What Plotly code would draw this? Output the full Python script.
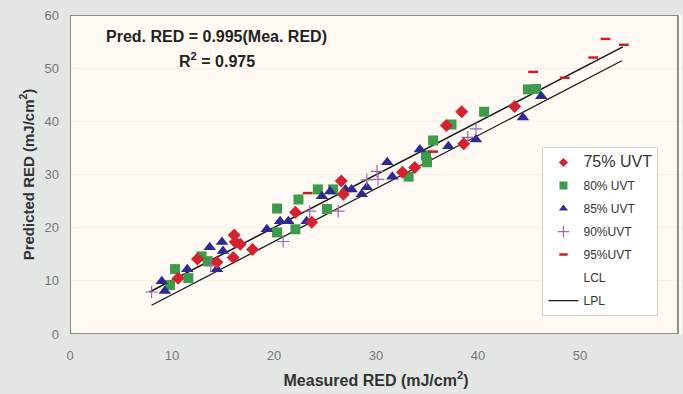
import plotly.graph_objects as go

# ---- data ----
uvt75_x = [10.6, 12.5, 14.4, 16.1, 16.2, 16.7, 16.0, 17.9, 22.1, 23.7, 26.8, 26.6, 32.6, 33.8, 36.9, 38.4, 38.6, 43.6]
uvt75_y = [10.5, 14.1, 13.5, 18.6, 17.3, 16.9, 14.4, 15.9, 22.9, 21.0, 26.3, 28.8, 30.4, 31.3, 39.2, 41.8, 35.8, 42.8]

uvt80_x = [9.8, 10.3, 11.6, 12.9, 13.5, 20.3, 20.3, 22.1, 22.4, 24.3, 25.8, 25.2, 33.2, 34.9, 35.0, 35.6, 37.4, 40.6, 44.9, 45.7]
uvt80_y = [9.2, 12.2, 10.5, 14.6, 13.7, 23.6, 19.1, 19.7, 25.3, 27.2, 27.2, 23.5, 29.6, 33.6, 32.3, 36.4, 39.4, 41.8, 46.0, 46.1]

uvt85_x = [9.0, 9.3, 11.5, 13.7, 14.9, 15.0, 14.4, 19.3, 20.6, 21.4, 23.2, 24.7, 25.5, 27.0, 27.6, 28.6, 29.1, 31.1, 31.6, 34.3, 37.1, 39.8, 44.4, 46.2]
uvt85_y = [9.9, 8.1, 12.2, 16.3, 17.3, 15.6, 12.2, 19.7, 21.2, 21.2, 21.2, 25.9, 26.8, 27.2, 27.2, 26.3, 27.6, 32.3, 29.6, 34.7, 35.3, 36.6, 40.7, 44.7]

uvt90_x = [8.0, 13.8, 20.9, 23.5, 26.3, 29.1, 30.1, 30.2, 39.0, 39.8]
uvt90_y = [7.9, 12.8, 17.4, 23.1, 23.1, 29.0, 30.6, 29.1, 37.0, 38.6]

uvt95_x = [23.3, 35.6, 45.4, 48.5, 51.3, 52.5, 54.3]
uvt95_y = [26.5, 34.3, 49.3, 48.2, 52.0, 55.5, 54.4]

fit_x = [7.8, 54.2]
fit_y = [7.9, 54.0]
lcl_x = [8.0, 54.1]
lcl_y = [6.6, 52.6]
lpl_x = [8.0, 54.1]
lpl_y = [5.4, 51.4]

tick_vals = [0, 10, 20, 30, 40, 50, 60]

FONT = "Liberation Sans, Arial, sans-serif"

series = [
    # name, xs, ys, marker (plot), marker (legend), legend rank
    ("80% UVT", uvt80_x, uvt80_y,
     dict(symbol="square", size=10, color="#3f9a4c"),
     dict(symbol="square", size=8, color="#3f9a4c"), 2),
    ("85% UVT", uvt85_x, uvt85_y,
     dict(symbol="triangle-up", size=11, color="#2f2a8f"),
     dict(symbol="triangle-up", size=8, color="#2f2a8f"), 3),
    ('<span style="font-size:16px">75% UVT</span>', uvt75_x, uvt75_y,
     dict(symbol="diamond", size=10, color="#d42330"),
     dict(symbol="diamond", size=7, color="#d42330"), 1),
    ("90%UVT", uvt90_x, uvt90_y,
     dict(symbol="cross-thin", size=9, line=dict(color="#9a6aa6", width=1.2)),
     dict(symbol="cross-thin", size=8, line=dict(color="#9a6aa6", width=1.2)), 4),
    ("95%UVT", uvt95_x, uvt95_y,
     dict(symbol="line-ew", size=7, line=dict(color="#c8202a", width=2.5)),
     dict(symbol="line-ew", size=6, line=dict(color="#c8202a", width=2.5)), 5),
]

fig = go.Figure()

# white LCL line (invisible against the background, drawn first)
fig.add_trace(go.Scatter(x=lcl_x, y=lcl_y, mode="lines", name="LCL",
                         line=dict(color="white", width=1), legendrank=6, legendgroup="g6"))
fig.add_trace(go.Scatter(x=fit_x, y=fit_y, mode="lines", showlegend=False,
                         line=dict(color="#1a1a1a", width=1.6)))
fig.add_trace(go.Scatter(x=lpl_x, y=lpl_y, mode="lines", name="LPL",
                         line=dict(color="#1a1a1a", width=1.3), legendrank=7, legendgroup="g7"))

for name, xs, ys, mk, lmk, rank in series:
    grp = "g%d" % rank
    fig.add_trace(go.Scatter(x=xs, y=ys, mode="markers", name=name, marker=mk,
                             showlegend=False, legendgroup=grp))
    fig.add_trace(go.Scatter(x=[None], y=[None], mode="markers", name=name, marker=lmk,
                             legendrank=rank, legendgroup=grp))

fig.add_annotation(xref="paper", yref="paper", x=0.24, y=0.934, xanchor="center", yanchor="middle",
                   text="<b>Pred. RED = 0.995(Mea. RED)</b>", showarrow=False,
                   font=dict(family=FONT, size=16, color="#222"))
fig.add_annotation(xref="paper", yref="paper", x=0.24, y=0.859, xanchor="center", yanchor="middle",
                   text="<b>R<sup>2</sup> = 0.975</b>", showarrow=False,
                   font=dict(family=FONT, size=16, color="#222"))

fig.update_layout(
    width=683, height=394,
    margin=dict(l=70, r=1, t=15, b=60),
    paper_bgcolor="#e2e7e4",
    plot_bgcolor="#fffbf4",
    font=dict(family=FONT, color="#555"),
    legend=dict(x=0.772, y=0.586, xanchor="left", yanchor="top",
                bgcolor="white", bordercolor="#cfcfcf", borderwidth=1,
                font=dict(family=FONT, size=12, color="#333"),
                tracegroupgap=4, itemwidth=30),
    shapes=[dict(type="rect", xref="x", yref="y", x0=0, x1=59.6, y0=0, y1=60,
                 line=dict(color="#8d8d8d", width=2), layer="above")],
)

fig.update_xaxes(range=[0, 60], tickvals=tick_vals, showgrid=False, zeroline=False,
                 ticks="", ticklabelstandoff=12,
                 tickfont=dict(family=FONT, size=13, color="#777"),
                 title=dict(text="<b>Measured RED (mJ/cm<sup>2</sup>)</b>", standoff=12,
                            font=dict(family=FONT, size=16, color="#333")))
fig.update_yaxes(range=[0, 60], tickvals=tick_vals, showgrid=True, gridcolor="#f5f0e6",
                 zeroline=False, ticks="", ticklabelstandoff=10,
                 tickfont=dict(family=FONT, size=13, color="#777"),
                 title=dict(text="<b>Predicted RED (mJ/cm<sup>2</sup>)</b>", standoff=6,
                            font=dict(family=FONT, size=15, color="#333")))

fig.write_html("out.html")
